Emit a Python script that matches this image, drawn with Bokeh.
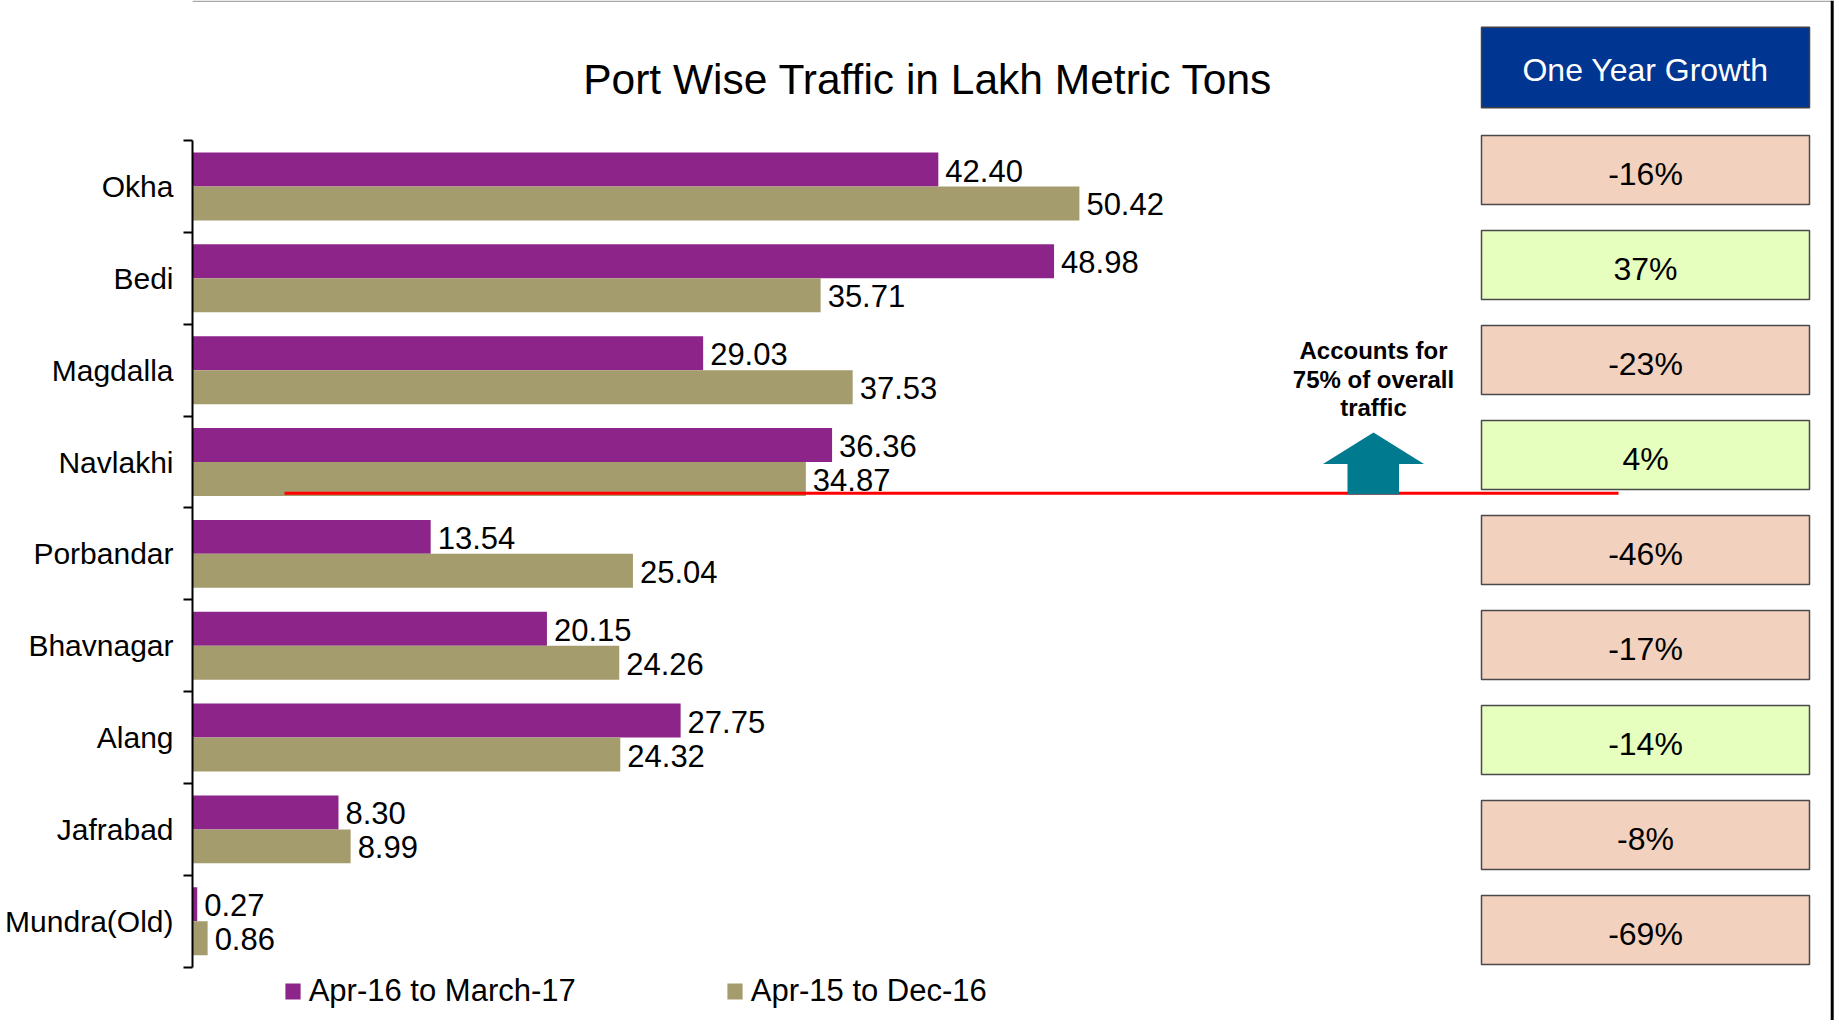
from bokeh.plotting import figure
from bokeh.models import Range1d, FixedTicker, Span, Legend, LegendItem
from bokeh.core.properties import value
from bokeh.embed import file_html
from bokeh.resources import INLINE

# ---------------- data ----------------
ports = ["Okha", "Bedi", "Magdalla", "Navlakhi", "Porbandar",
         "Bhavnagar", "Alang", "Jafrabad", "Mundra(Old)"]
apr16_mar17 = [42.40, 48.98, 29.03, 36.36, 13.54, 20.15, 27.75, 8.30, 0.27]
apr15_dec16 = [50.42, 35.71, 37.53, 34.87, 25.04, 24.26, 24.32, 8.99, 0.86]
series_names = ["Apr-16 to March-17", "Apr-15 to Dec-16"]
growth = ["-16%", "37%", "-23%", "4%", "-46%", "-17%", "-14%", "-8%", "-69%"]
growth_good = [False, True, False, True, False, False, True, False, False]
title_text = "Port Wise Traffic in Lakh Metric Tons"
header_text = "One Year Growth"
note_lines = ["Accounts for", "75% of overall", "traffic"]

# ---------------- style / layout ----------------
PURPLE = "#8C2489"
TAN = "#A59C6E"
PEACH = "#F2D1BE"
GREEN = "#E6FEBE"
NAVY = "#003591"
TEAL = "#007A8F"
FONT = "Liberation Sans"

W, H = 1836, 1020
LEFT = 192             # frame left (value 0)
X0 = LEFT
PXU = 17.59            # px per value unit
CAT0, CATS = 186.0, 91.84   # y of first category centre, spacing
ROW0, ROWS = 169.5, 95.0    # y of first growth row centre, spacing
BAR_H = 0.37


def dx(px):
    return (px - X0) / PXU


def dy(py):
    return (py - CAT0) / CATS


def ty(py):
    return (py - ROW0) / ROWS


p = figure(width=W, height=H,
           x_range=Range1d(0, dx(W)),
           y_range=Range1d(dy(H), dy(0)),
           x_axis_location=None, y_axis_location="left",
           toolbar_location=None, output_backend="svg",
           min_border_left=LEFT, min_border_right=0,
           min_border_top=0, min_border_bottom=0,
           outline_line_color=None)
p.extra_y_ranges = {"table": Range1d(ty(H), ty(0))}
p.grid.visible = False

idx = list(range(len(ports)))

r1 = p.hbar(y=[i - BAR_H / 2 for i in idx], left=0, right=apr16_mar17,
            height=BAR_H, fill_color=PURPLE, line_color=None)
r2 = p.hbar(y=[i + BAR_H / 2 for i in idx], left=0, right=apr15_dec16,
            height=BAR_H, fill_color=TAN, line_color=None)

# y axis: labels at centres, separator ticks between categories
ax = p.yaxis[0]
ax.ticker = FixedTicker(ticks=idx, minor_ticks=[i - 0.5 for i in range(len(ports) + 1)])
ax.major_label_overrides = {i: n for i, n in enumerate(ports)}
ax.bounds = (-0.5, len(ports) - 0.5)
ax.axis_line_color = "black"
ax.axis_line_width = 2
ax.major_tick_out = 0
ax.major_tick_in = 0
ax.minor_tick_out = 9
ax.minor_tick_in = 0
ax.minor_tick_line_color = "black"
ax.minor_tick_line_width = 2
ax.major_label_standoff = 10
ax.major_label_text_font = FONT
ax.major_label_text_font_size = "30px"
ax.major_label_text_color = "black"

# slide border lines
p.segment(x0=[dx(192)], x1=[dx(1831)], y0=[dy(0.8)], y1=[dy(0.8)],
          line_color="#A8A8A8", line_width=1.5)
p.add_layout(Span(location=dx(1831.7), dimension="height",
                  line_color="black", line_width=3))

# red separator line and arrow
p.segment(x0=[dx(284)], x1=[dx(1618)], y0=[dy(492.7)], y1=[dy(492.7)],
          line_color="#FF0000", line_width=3)
arrow_px = [(1373, 432), (1423.5, 463.5), (1398.5, 463.5), (1398.5, 494),
            (1347, 494), (1347, 463.5), (1322.5, 463.5)]
p.patch(x=[dx(a) for a, b in arrow_px], y=[dy(b) for a, b in arrow_px],
        fill_color=TEAL, line_color=None)

# value labels
off = 1.0 / CATS
p.text(x=apr16_mar17, y=[i - BAR_H / 2 + off for i in idx],
       text=["%.2f" % v for v in apr16_mar17], x_offset=7,
       text_font=value(FONT), text_font_size="31px", text_color="black",
       text_align="left", text_baseline="middle")
p.text(x=apr15_dec16, y=[i + BAR_H / 2 + off for i in idx],
       text=["%.2f" % v for v in apr15_dec16], x_offset=7,
       text_font=value(FONT), text_font_size="31px", text_color="black",
       text_align="left", text_baseline="middle")

# title
p.text(x=[dx(927.5)], y=[dy(78.5)], text=[title_text],
       text_font=value(FONT), text_font_size="42.5px", text_color="black",
       text_align="center", text_baseline="middle")

# note
p.text(x=[dx(1373)] * 3, y=[dy(350.2), dy(379), dy(406.8)], text=note_lines,
       text_font=value(FONT), text_font_size="24px", text_font_style="bold",
       text_color="black", text_align="center", text_baseline="middle")

# growth table
BX0, BX1 = dx(1481), dx(1809)
half = 34.5 / ROWS
p.quad(left=BX0, right=BX1, top=[ty(26.7)], bottom=[ty(107.3)],
       fill_color=NAVY, line_color="#404040", line_width=1.5, y_range_name="table")
p.text(x=[(BX0 + BX1) / 2], y=[ty(69.2)], text=[header_text],
       text_font=value(FONT), text_font_size="32px", text_color="white",
       text_align="center", text_baseline="middle", y_range_name="table")
p.quad(left=BX0, right=BX1, top=[k - half for k in idx], bottom=[k + half for k in idx],
       fill_color=[GREEN if g else PEACH for g in growth_good],
       line_color="#4A4A4A", line_width=1.5, y_range_name="table")
p.text(x=[(BX0 + BX1) / 2] * len(idx), y=[k + 4.2 / ROWS for k in idx], text=growth,
       text_font=value(FONT), text_font_size="32px", text_color="black",
       text_align="center", text_baseline="middle", y_range_name="table")

# legend
legend = Legend(items=[LegendItem(label=series_names[0], renderers=[r1]),
                       LegendItem(label=series_names[1], renderers=[r2])],
                orientation="horizontal", location=(282.7 - X0, 11.5),
                glyph_width=19, glyph_height=20, label_standoff=7, spacing=149,
                padding=0, margin=0, border_line_alpha=0, background_fill_alpha=0,
                label_text_font=FONT, label_text_font_size="31px",
                label_text_color="black")
p.add_layout(legend)

open("out.html", "w").write(file_html(p, INLINE))
